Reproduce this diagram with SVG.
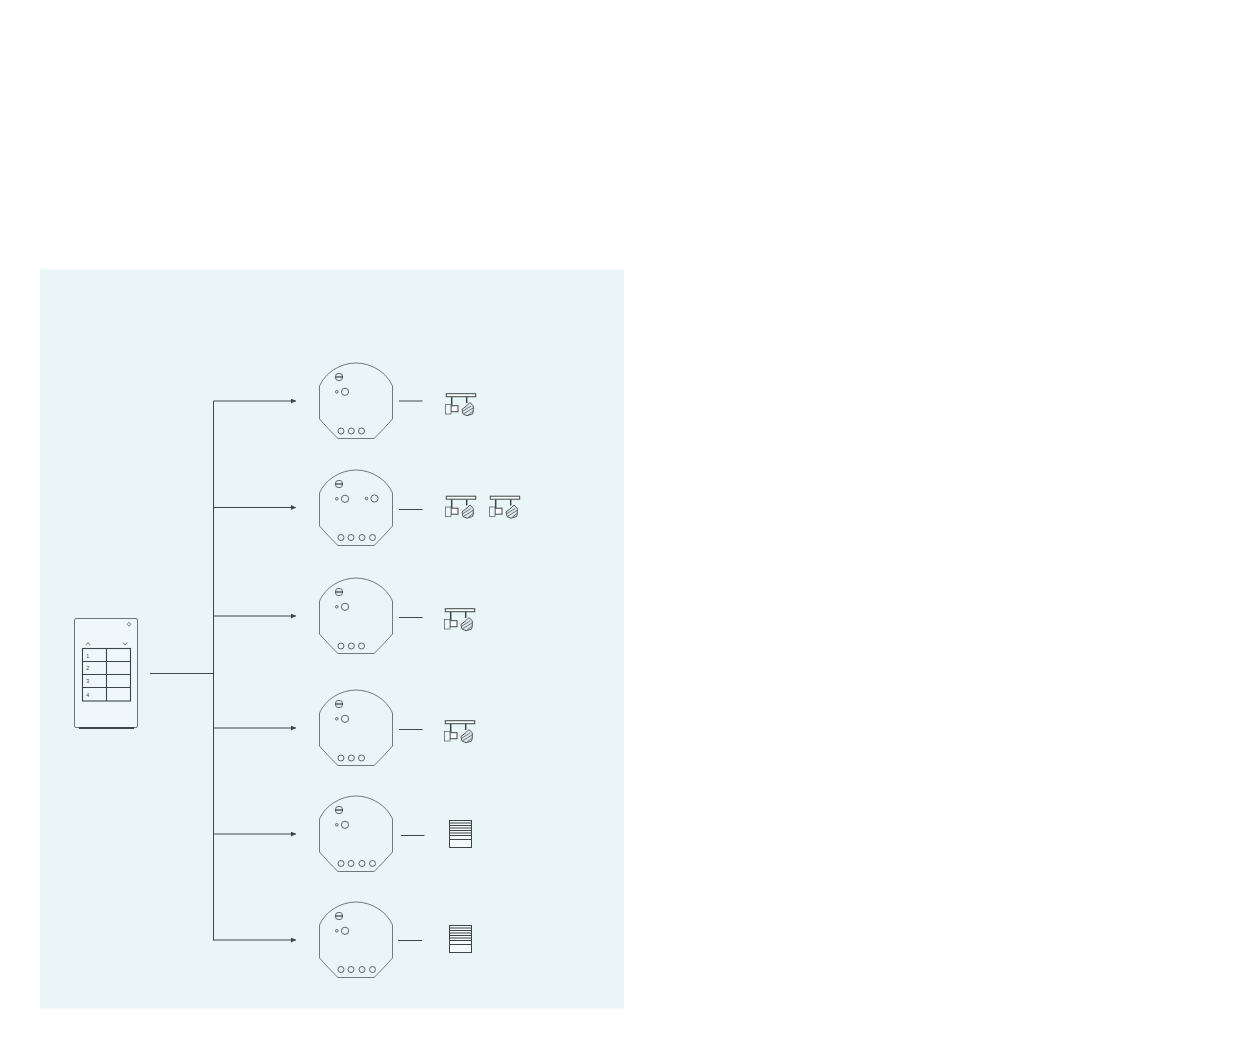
<svg xmlns="http://www.w3.org/2000/svg" width="1247" height="1049" viewBox="0 0 1247 1049">
<style>
.o{fill:none;stroke:#626c6e;stroke-width:.9}
.d{fill:none;stroke:#4a5557;stroke-width:.9}
.k{fill:none;stroke:#3a4648;stroke-width:1.1}
.c{fill:none;stroke:#3a4648;stroke-width:1}
.t{font-family:"Liberation Sans",Arial,sans-serif;font-size:6px;fill:#4a5557}
</style>
<defs>
<marker id="a" markerWidth="6" markerHeight="6" refX="5" refY="2.5" orient="auto" markerUnits="userSpaceOnUse"><path d="M0 0L5 2.500L0 5Z" fill="#3a4648"/></marker>
<g id="body">
<path class="o" d="M319.500 386C325 373 340 363 356 363C372 363 387 373 392.500 386V419C387 425 380 433 374 438.500H338C332 433 325 425 319.500 419Z"/>
<circle class="d" cx="339" cy="377" r="3.700"/><path d="M335.500 377H343" stroke="#3a4648" stroke-width="1.300"/>
<circle class="d" cx="336.800" cy="391.800" r="1.300"/><circle class="d" cx="345" cy="391.800" r="3.600"/>
</g>
<g id="lamp">
<rect x="446.300" y="393.700" width="29.400" height="3" fill="#fff" stroke="#3a4648"/>
<path d="M451.700 397V405.500M466.700 397V403" stroke="#3a4648" stroke-width="1.500" fill="none"/>
<rect x="451" y="405.700" width="7" height="6" fill="#fff" stroke="#3a4648"/>
<rect x="445.500" y="404.500" width="5.500" height="9.500" fill="#eef7f9" stroke="#5b6567" stroke-width=".8"/>
<path fill="#dfe8ea" stroke="#3a4648" stroke-width=".9" d="M462 409.500L467 405.500L470 402.500L473.300 406V411.500L472.500 414L467 415.700L463 414Z"/>
<path class="o" d="M463 411L471 406M464 413.500L473 408M468 415L473 411"/>
</g>
<g id="blind">
<rect x="449.500" y="820.500" width="22" height="27" fill="#f4fafb" stroke="#3a4648"/>
<path d="M450 823H471M450 825.500H471M450 828H471M450 830.500H471M450 833H471M450 835.500H471M450 839.500H471" fill="none" stroke="#3a4648" stroke-width="1.100"/>
</g>
</defs>
<rect width="1247" height="1049" fill="#fff"/>
<rect x="40" y="269.500" width="584" height="739" fill="#e9f5f7"/>
<g id="connectors">
<path class="c" d="M150 673.500H213.500M213.500 401V940.500"/>
<path class="c" marker-end="url(#a)" d="M213.500 401H296"/>
<path class="c" marker-end="url(#a)" d="M213.500 507.500H296"/>
<path class="c" marker-end="url(#a)" d="M213.500 616H296"/>
<path class="c" marker-end="url(#a)" d="M213.500 728H296"/>
<path class="c" marker-end="url(#a)" d="M213.500 834H296"/>
<path class="c" marker-end="url(#a)" d="M213.500 940H296"/>
<path class="c" d="M399 401H422.500M399 509.500H422.500M399 617.500H422.500M399 729.500H422.500M401 835.500H424.500M398 940.500H422"/>
</g>
<g id="keypad">
<rect x="74.500" y="618.500" width="63" height="109" rx="1.500" fill="#eef7f9" stroke="#6b7577" stroke-width="1"/>
<rect x="79" y="727" width="55" height="2" fill="#3a4648"/>
<path class="o" d="M129 622.300L130.800 624.300L129 626.300L127.200 624.300Z"/>
<path class="o" d="M86 645L88 642.500L90 645M123 642.500L125 645L127 642.500"/>
<rect class="k" x="82.500" y="648.500" width="48" height="52.500"/>
<path class="k" d="M106.500 648.500V701M82.500 661.500H130.500M82.500 674.500H130.500M82.500 687.500H130.500"/>
<text class="t" x="86" y="657.500">1</text><text class="t" x="86" y="670">2</text><text class="t" x="86" y="683">3</text><text class="t" x="86" y="696.500">4</text>
</g>
<g id="module1"><use href="#body"/><g class="d"><circle cx="341" cy="431" r="3"/><circle cx="351.300" cy="431" r="3"/><circle cx="361.500" cy="431" r="3"/></g></g>
<g id="module2" transform="translate(0 107)"><use href="#body"/><circle class="d" cx="366.500" cy="391.500" r="1.300"/><circle class="d" cx="374.500" cy="391.500" r="3.600"/><g class="d"><circle cx="341" cy="430.500" r="3"/><circle cx="351" cy="430.500" r="3"/><circle cx="362" cy="430.500" r="3"/><circle cx="372.500" cy="430.500" r="3"/></g></g>
<g id="module3" transform="translate(0 215)"><use href="#body"/><g class="d"><circle cx="341" cy="431" r="3"/><circle cx="351.300" cy="431" r="3"/><circle cx="361.500" cy="431" r="3"/></g></g>
<g id="module4" transform="translate(0 327)"><use href="#body"/><g class="d"><circle cx="341" cy="431" r="3"/><circle cx="351.300" cy="431" r="3"/><circle cx="361.500" cy="431" r="3"/></g></g>
<g id="module5" transform="translate(0 433)"><use href="#body"/><g class="d"><circle cx="341" cy="430.500" r="3"/><circle cx="351" cy="430.500" r="3"/><circle cx="362" cy="430.500" r="3"/><circle cx="372.500" cy="430.500" r="3"/></g></g>
<g id="module6" transform="translate(0 539)"><use href="#body"/><g class="d"><circle cx="341" cy="430.500" r="3"/><circle cx="351" cy="430.500" r="3"/><circle cx="362" cy="430.500" r="3"/><circle cx="372.500" cy="430.500" r="3"/></g></g>
<g id="load1"><use href="#lamp"/></g>
<g id="load2a" transform="translate(0 102.500)"><use href="#lamp"/></g>
<g id="load2b" transform="translate(44 102.500)"><use href="#lamp"/></g>
<g id="load3" transform="translate(-1 215)"><use href="#lamp"/></g>
<g id="load4" transform="translate(-1 327)"><use href="#lamp"/></g>
<g id="load5"><use href="#blind"/></g>
<g id="load6" transform="translate(0 105)"><use href="#blind"/></g>
</svg>
